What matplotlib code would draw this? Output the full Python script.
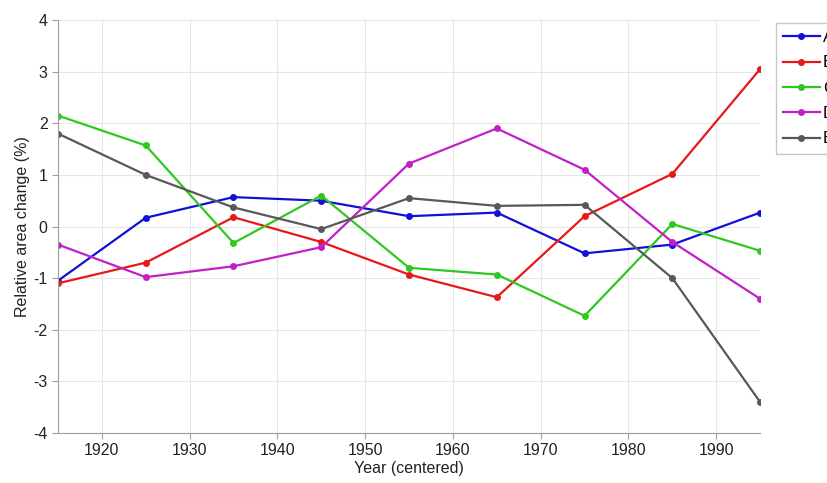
import matplotlib
matplotlib.use('Agg')
import matplotlib.pyplot as plt
import numpy as ny

# data
years = [1915, 1925, 1935, 1945, 1955, 1965, 1975, 1985, 1995]
series_a = [-1.05, 0.17, 0.57, 0.50, 0.20, 0.27, -0.52, -0.35, 0.27]
series_b = [-1.10, -0.70, 0.18, -0.30, -0.93, -1.37, 0.20, 1.02, 3.05]
series_c = [2.15, 1.57, -0.32, 0.60, -0.80, -0.93, -1.73, 0.05, -0.47]
series_d = [-0.35, -0.98, -0.77, -0.40, 1.22, 1.90, 1.10, -0.30, -1.40]
series_e = [1.80, 1.00, 0.37, -0.05, 0.55, 0.40, 0.42, -1.00, -3.40]
labels = ['A', 'B', 'C', 'D', 'E']
colors = ['#1010d8', '#e81818', '#30c820', '#c020c8', '#585858']

plt.rcParams['font.family'] = ['Liberation Sans', 'DejaVu Sans']
plt.rcParams['axes.unicode_minus'] = False

fig = plt.figure(figsize=(8.28, 4.83), dpi=100)
ax = fig.add_axes([0.070, 0.1035, 0.848, 0.855])

for y, lab, c in zip([series_a, series_b, series_c, series_d, series_e], labels, colors):
    ax.plot(years, y, '-', color=c, linewidth=1.6, marker='o', markersize=4, label=lab)

ax.set_xlim(1915, 1995)
ax.set_ylim(-4, 4)
ax.set_xticks(ny.arange(1920, 1991, 10))
ax.set_yticks(ny.arange(-4, 5, 1))
ax.grid(True, color='#e6e6e6', linewidth=0.8)
ax.set_axisbelow(True)
for s in ['top', 'right']:
    ax.spines[s].set_visible(False)
for s in ['left', 'bottom']:
    ax.spines[s].set_color('#a0a0a0')
ax.tick_params(colors='#a0a0a0', labelcolor='#222222', labelsize=11.5, length=4)

ax.set_xlabel('Year (centered)', fontsize=11.5, color='#222222', labelpad=2)
ax.set_ylabel('Relative area change (%)', fontsize=11.5, color='#222222', labelpad=2)

# legend sits outside the axes and runs off the right edge, as in the original
leg = ax.legend(loc='upper left', bbox_to_anchor=(1.022, 0.994), fontsize=12,
                frameon=True, fancybox=False, edgecolor='#bbbbbb', handlelength=2.2,
                handletextpad=0.2, borderpad=0.45, borderaxespad=0, labelspacing=0.62)

fig.savefig('out.png', dpi=100)
